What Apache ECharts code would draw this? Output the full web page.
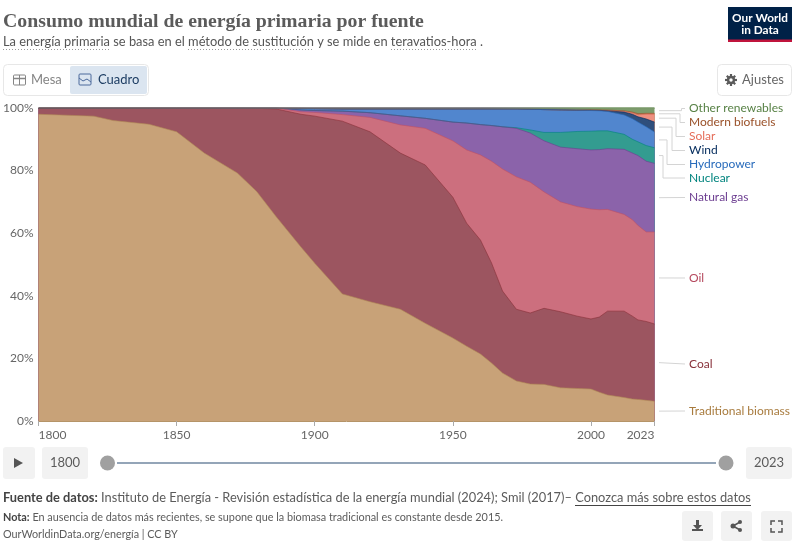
<!DOCTYPE html>
<html><head><meta charset="utf-8">
<style>html,body{margin:0;padding:0;background:#fff}#c{width:800px;height:550px}</style>
<script src="https://cdn.jsdelivr.net/npm/echarts@6/dist/echarts.min.js"></script>
</head><body><div id="c"></div>
<script>
const years=[1800,1820,1827,1840,1850,1860,1872,1879,1886,1895,1900,1910,1920,1931,1940,1950,1955,1960,1964,1968,1973,1978,1983,1989,1995,2000,2003,2006,2012,2015,2017,2020,2023];
const biomass=[98,97.4,96,94.8,92.4,85.6,79.2,73.3,65.3,55.6,50.4,40.6,38.1,35.7,31.2,26.5,23.9,21.4,18.5,15.3,12.8,11.8,11.7,10.6,10.4,10.2,9.2,8.3,7.5,7,6.9,6.6,6.3];
const coal=[2,2.6,4,5.2,7.6,14.4,20.8,26.6,34.4,42.4,47,55.2,54.3,49.9,50.6,45,39.3,36.4,32,26.2,22.9,22.7,24.3,24.3,23.1,22.4,24,26.8,27.6,26.5,25.4,25.2,24.7];
const oil=[0,0,0,0,0,0,0,0.1,0.3,0.8,1.2,2.1,4.6,9,11.7,18,23.4,27.2,32.5,39,42.3,41.8,37.2,35.1,35,35.1,34.3,32.5,30.9,30.8,30.2,28.6,29.4];
const gas=[0,0,0,0,0,0,0,0,0,0.6,0.6,1.1,1.5,2.9,3.2,6,8.6,9.7,11.4,13.5,15.5,15.7,16.3,17.5,18.5,18.9,19.2,19.4,20.8,21.3,22.3,22.6,21.9];
const nuclear=[0,0,0,0,0,0,0,0,0,0,0,0,0,0,0,0,0,0,0,0,0.2,1,2.7,4.7,5.5,6,6,5.7,4.8,4.4,4.4,5,5];
const hydro=[0,0,0,0,0,0,0,0,0,0.5,0.6,0.7,1.2,2.2,3,4.2,4.5,5,5.3,5.7,6,6.6,7.3,7.2,6.8,6.6,6.4,6.2,6.2,6.6,6.3,6,5];
const wind=[0,0,0,0,0,0,0,0,0,0,0,0,0,0,0,0,0,0,0,0,0,0,0,0,0,0.1,0.15,0.2,0.9,1.4,1.7,2.5,3.2];
const solar=[0,0,0,0,0,0,0,0,0,0,0,0,0,0,0,0,0,0,0,0,0,0,0,0,0,0,0,0,0.2,0.4,0.6,1.5,2.5];
const biofuels=[0,0,0,0,0,0,0,0,0,0,0,0,0,0,0,0,0,0,0,0,0,0,0,0,0,0.1,0.15,0.25,0.2,0.3,0.4,0.3,0.3];
const otherRen=[0,0,0,0,0,0,0,0,0,0.1,0.2,0.3,0.3,0.3,0.3,0.3,0.3,0.3,0.3,0.3,0.3,0.4,0.5,0.6,0.7,0.6,0.6,0.65,0.9,1.3,1.8,1.7,1.7];
const xTicks=[1800,1850,1900,1950,2000,2023];

const defs=[
 ['Traditional biomass',biomass,'#C8A278','#B08A55','#A87B3E',411,null],
 ['Coal',coal,'#9C5560','#883039','#883039',364,null],
 ['Oil',oil,'#CC6F7E','#C15065','#B5495E',278,null],
 ['Natural gas',gas,'#8B63AA','#6D3E91','#6D3E91',197.5,null],
 ['Nuclear',nuclear,'#339C90','#00847E','#00847E',178,663],
 ['Hydropower',hydro,'#5186CE','#286BBB','#286BBB',164.5,667],
 ['Wind',wind,'#2F4F7C','#00295B','#00295B',150.5,672],
 ['Solar',solar,'#EE9080','#E56E5A','#E56E5A',136.5,676],
 ['Modern biofuels',biofuels,'#B27B5C','#9A5129','#9A5129',122.5,680],
 ['Other renewables',otherRen,'#7C9B6C','#578145','#578145',108.5,681.5]
];
// running totals per year: each band is filled down to the axis, uppermost band first
const running=years.map(()=>0);
const tops=defs.map(d=>d[1].map((v,i)=>(running[i]+=v)));
const series=defs.map((d,k)=>({
  name:d[0],type:'line',symbol:'none',smooth:false,z:2,
  data:years.map((y,i)=>[y,+tops[k][i].toFixed(2)]),
  lineStyle:{width:0.6,color:d[3]},
  areaStyle:{color:d[2],opacity:1,origin:'start'}
})).reverse();
// the top edge of the stack reads as a dark rule until the renewables band opens up
series.push({name:'Top edge',type:'line',symbol:'none',z:3,clip:false,silent:true,
  data:years.map((y,k)=>[y,+tops[tops.length-1][k].toFixed(2)]),
  lineStyle:{width:1.3,color:{type:'linear',x:0,y:0,x2:1,y2:0,colorStops:[
    {offset:0,color:'#6a5a5c'},{offset:0.72,color:'#6a6a70'},{offset:0.9,color:'#7C9B6C'},{offset:1,color:'#7C9B6C'}]}}
});

const G='#5b5b5b';
function T(x,y,text,o={}){return {type:'text',x,y,silent:true,style:Object.assign({text,fill:G,font:'13px Lato',textVerticalAlign:'middle'},o)};}
function R(x,y,w,h,fill,stroke,r=4){return {type:'rect',silent:true,shape:{x,y,width:w,height:h,r},style:{fill:fill||'none',stroke:stroke||'none',lineWidth:1}};}
function L(pts,stroke,w=1,dash){return {type:'polyline',silent:true,shape:{points:pts},style:{fill:'none',stroke,lineWidth:w,lineDash:dash||null}};}
function PG(pts,fill){return {type:'polygon',silent:true,shape:{points:pts},style:{fill}};}
function C(x,y,r,fill){return {type:'circle',silent:true,shape:{cx:x,cy:y,r},style:{fill}};}

const ui=[
 T(3,42,'La energía primaria se basa en el método de sustitución y se mide en teravatios-hora .',{font:'12.85px Lato',fill:'#555'}),
 L([[3,49.5],[109,49.5]],'#999',1,[1,2]),L([[188,49.5],[312,49.5]],'#999',1,[1,2]),L([[391,49.5],[477,49.5]],'#999',1,[1,2]),
 R(728,7,64,35,'#002147',null,0),R(728,39.5,64,2.5,'#C0143C',null,0),
 T(760,18,'Our World',{font:'bold 11.8px Lato',fill:'#fff',textAlign:'center'}),
 T(760,30,'in Data',{font:'bold 11.8px Lato',fill:'#fff',textAlign:'center'}),
 R(3.5,64.5,145,31,'#fff','#e7e7e7'),R(70,66,77,28,'#DBE5F0',null,2),
 T(31,80,'Mesa',{font:'13px Lato',fill:'#858585'}),T(98,80,'Cuadro',{font:'13px Lato',fill:'#1d3d63'}),
 R(13.5,75,12,10,'#fff','#858585',1),L([[13.5,78.5],[25.5,78.5]],'#858585',1.5),L([[19.5,75],[19.5,85]],'#858585'),
 R(79,74,12,11,'none','#4C6A9C',1),L([[79,78],[83,81],[87,79],[91,82]],'#4C6A9C'),
 R(717.5,64.5,74,31,'#fff','#e7e7e7'),
 L([[725,80],[737,80]],'#5b5b5b',2.2),L([[731,74],[731,86]],'#5b5b5b',2.2),L([[726.8,75.8],[735.2,84.2]],'#5b5b5b',2.2),L([[735.2,75.8],[726.8,84.2]],'#5b5b5b',2.2),
 C(731,80,4.2,'#5b5b5b'),C(731,80,1.7,'#fff'),T(742,80,'Ajustes',{font:'13px Lato',fill:'#666'}),
 R(3,447,32,32,'#f2f2f2',null,3),PG([[14,458],[23,463],[14,468]],'#555'),
 R(42,447,46,32,'#f2f2f2',null,3),T(65,463,'1800',{font:'13px Lato',textAlign:'center'}),
 L([[117,463],[716,463]],'#94A5B8',2),C(107.5,463,7.5,'#A0A0A0'),C(726,463,7.5,'#A0A0A0'),
 R(746,447,46,32,'#f2f2f2',null,3),T(769,463,'2023',{font:'13px Lato',textAlign:'center'}),
 T(3,498,'{b|Fuente de datos:} Instituto de Energía - Revisión estadística de la energía mundial (2024); Smil (2017)– Conozca más sobre estos datos',
   {font:'12.83px Lato',fill:'#5b5b5b',rich:{b:{font:'bold 12.83px Lato',fill:'#444'}}}),
 L([[575,505.5],[751,505.5]],'#444',1),
 T(3,517.5,'{b|Nota:} En ausencia de datos más recientes, se supone que la biomasa tradicional es constante desde 2015.',
   {font:'10.85px Lato',fill:'#5b5b5b',rich:{b:{font:'bold 10.85px Lato',fill:'#444'}}}),
 T(3,535,'OurWorldinData.org/energía | CC BY',{font:'10.8px Lato'}),
 R(682,511,31,30,'#f2f2f2',null,3),R(721,511,31,30,'#f2f2f2',null,3),R(761,511,31,30,'#f2f2f2',null,3),
 PG([[696,520],[699,520],[699,525],[702,525],[697.5,530],[693,525],[696,525]],'#555'),PG([[692,529],[703,529],[703,531],[692,531]],'#555'),
 L([[740,522],[733,526],[740,530]],'#555',1.5),C(733,526,2.5,'#555'),C(740,522,2,'#555'),C(740,530,2,'#555'),
 L([[771,525],[771,521],[775,521]],'#555',1.5),L([[778,521],[782,521],[782,525]],'#555',1.5),
 L([[771,528],[771,532],[775,532]],'#555',1.5),L([[778,532],[782,532],[782,528]],'#555',1.5)
];

const chart=echarts.init(document.getElementById('c'));
chart.setOption({
  animation:false,
  title:{text:'Consumo mundial de energía primaria por fuente',left:3,top:12,padding:0,
    textStyle:{fontFamily:'Liberation Serif',fontSize:19.8,fontWeight:'bold',color:'#5b5b5b'}},
  grid:{left:38,top:108,width:616.5,height:313,containLabel:false},
  xAxis:{type:'value',min:1800,max:2023,splitLine:{show:false},
    axisLine:{show:true,lineStyle:{color:'#B59468',width:1}},
    axisTick:{show:true,length:5,customValues:xTicks,lineStyle:{color:'#aaa'}},
    axisLabel:{customValues:xTicks,formatter:v=>String(v),fontFamily:'Lato',fontSize:12,color:'#666',margin:8,alignMinLabel:'left',alignMaxLabel:'right'}},
  yAxis:{type:'value',min:0,max:100,interval:20,splitLine:{show:false},axisLine:{show:false},axisTick:{show:false},
    axisLabel:{formatter:v=>v+'%',fontFamily:'Lato',fontSize:12,color:'#666',margin:5}},
  series,
  graphic:ui
});

// leader lines and end labels, placed from the 2023 values
let cum=0;const extra=[];
const last=years.length-1;
defs.forEach(d=>{
  const v=d[1][last];const mid=cum+v/2;cum+=v;
  const y=chart.convertToPixel({xAxisIndex:0,yAxisIndex:0},[2023,mid])[1];
  const ly=d[5];
  const pts=d[6]?[[659,y],[d[6],y],[d[6],ly],[685,ly]]:[[659,y],[685,ly]];
  extra.push(L(pts,'#d4d4d4',1));
  extra.push(T(689,ly,d[0],{font:'12px Lato',fill:d[4]}));
});
chart.setOption({graphic:ui.concat(extra)},{replaceMerge:['graphic']});
</script></body></html>
